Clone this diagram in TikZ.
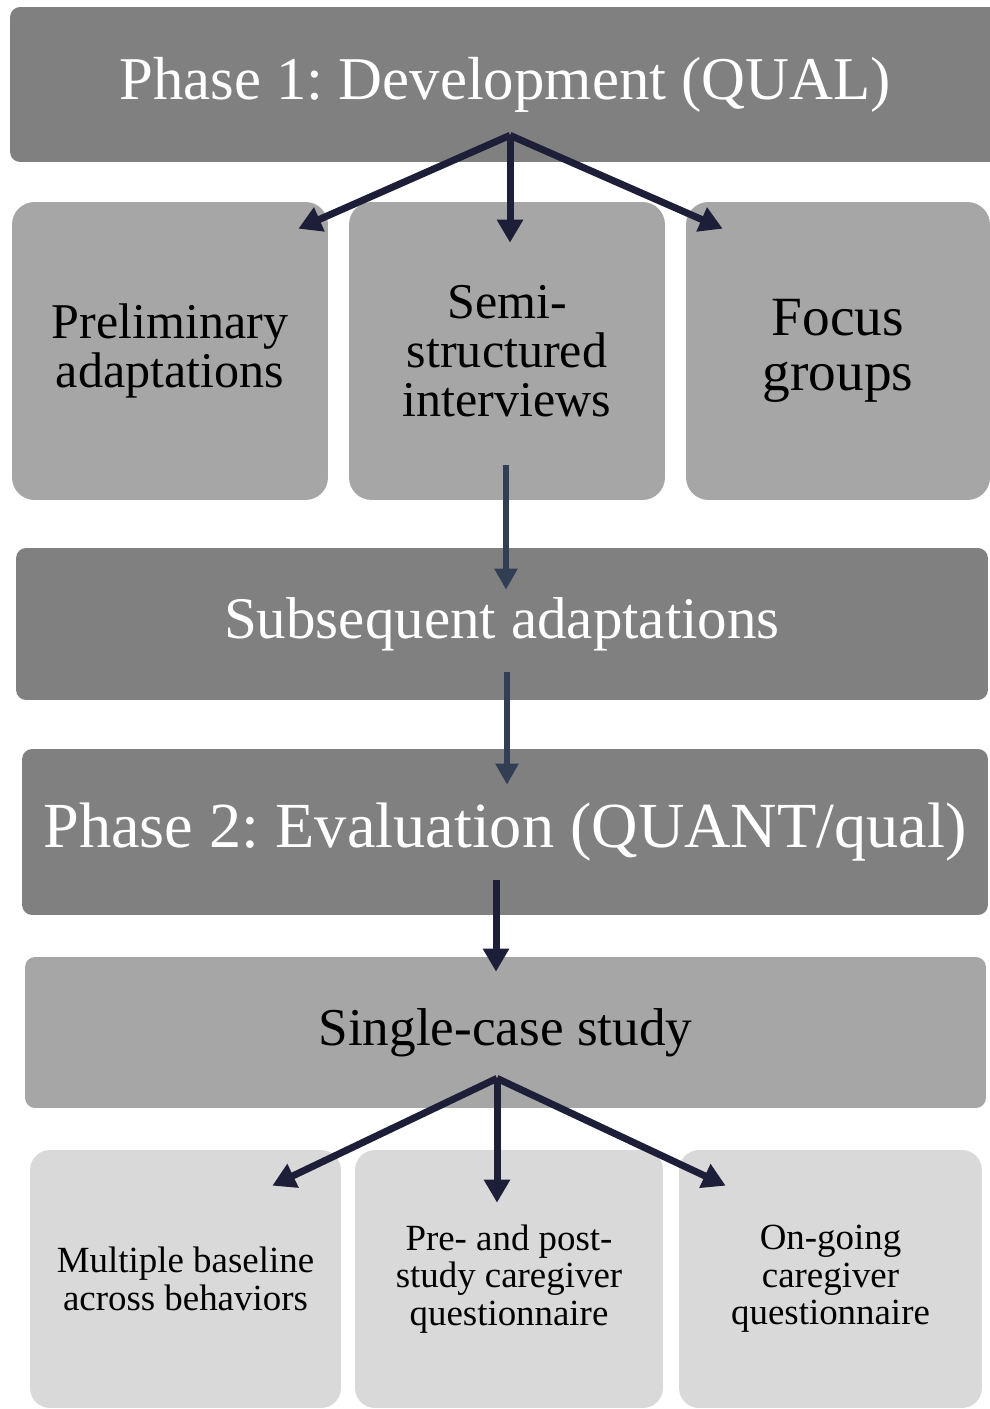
\documentclass[tikz,border=0pt]{standalone}
\usepackage{fontspec}
\setmainfont{Liberation Serif}
\usetikzlibrary{arrows.meta,positioning}
\definecolor{darkbox}{HTML}{808080}
\definecolor{midbox}{HTML}{A6A6A6}
\definecolor{lightbox}{HTML}{D9D9D9}
\definecolor{navy}{HTML}{1D1F38}
\definecolor{slate}{HTML}{323E54}
\tikzset{
	phasebox/.style={fill=darkbox,text=white,rounded corners=0.2cm,inner sep=0pt,align=center},
	studybox/.style={fill=midbox,rounded corners=0.2cm,inner sep=0pt,align=center},
	methodbox/.style={fill=midbox,rounded corners=0.45cm,inner sep=0pt,align=center,minimum height=5.96cm,font=\fontsize{28.5}{28}\selectfont},
	measurebox/.style={fill=lightbox,rounded corners=0.4cm,inner sep=0pt,align=center,minimum height=5.16cm,font=\fontsize{21}{21.3}\selectfont},
	link/.style={-{Triangle[length=0.46cm,width=0.5cm]},line width=0.14cm,draw=navy},
	step link/.style={link,draw=slate,line width=0.13cm,-{Triangle[length=0.42cm,width=0.44cm]}}
}
\frenchspacing

\begin{document}
\begin{tikzpicture}[x=0.02cm,y=-0.02cm]
	\path[use as bounding box,clip] (0,0) rectangle (990,1409);
	
	\node[phasebox,minimum width=19.8cm,minimum height=3.1cm,font=\fontsize{34.6}{40}\selectfont] (phase1) at (505,84.5) {Phase 1: Development (QUAL)};
	\node[methodbox,minimum width=6.32cm] (prelim) at (170,351) {Preliminary\\adaptations};
	\node[methodbox,minimum width=6.32cm] (semi) at (507,351) {Semi-\\structured\\interviews};
	\node[methodbox,minimum width=6.08cm,font=\fontsize{31.5}{31}\selectfont] (focus) at (838,351) {Focus\\groups};
	\node[phasebox,minimum width=19.44cm,minimum height=3.04cm,font=\fontsize{33.6}{38}\selectfont] (sub) at (502,624) {Subsequent adaptations};
	\node[phasebox,minimum width=19.32cm,minimum height=3.32cm,font=\fontsize{36.6}{42}\selectfont] (phase2) at (505,832) {Phase 2: Evaluation (QUANT/qual)};
	\node[studybox,minimum width=19.22cm,minimum height=3.02cm,font=\fontsize{30.3}{34}\selectfont] (single) at (505.5,1032.5) {Single-case study};
	\node[measurebox,minimum width=6.22cm] (multi) at (185.5,1279) {Multiple baseline\\across behaviors};
	\node[measurebox,minimum width=6.16cm] (prepost) at (509,1279) {Pre- and post-\\study caregiver\\questionnaire};
	\node[measurebox,minimum width=6.06cm] (ongoing) at (830.5,1279) {On-going\\caregiver\\questionnaire};
	
	\coordinate (fork1) at ([xshift=0.1cm,yshift=0.54cm]phase1.south);
	\coordinate (fork2) at ([xshift=-0.17cm,yshift=0.6cm]single.south);
	
	% phase 1 methods
	\draw[link] (fork1) -- ([xshift=-0.6cm,yshift=-0.54cm]prelim.north east);
	\draw[link] (fork1) -- ([yshift=-0.82cm]fork1 |- semi.north);
	\draw[link] (fork1) -- ([xshift=0.74cm,yshift=-0.54cm]focus.north west);
	
	\draw[step link] ([xshift=-0.02cm,yshift=0.7cm]semi.south) -- ([xshift=-0.02cm,yshift=-0.84cm]semi.south |- sub.north);
	\draw[step link] ([xshift=0.1cm,yshift=0.56cm]sub.south) -- ([xshift=0.1cm,yshift=-0.72cm]sub.south |- phase2.north);
	\draw[link] ([xshift=-0.18cm,yshift=0.7cm]phase2.south) -- ([xshift=-0.18cm,yshift=-0.3cm]phase2.south |- single.north);
	
	% phase 2 measures
	\draw[link] (fork2) -- ([xshift=-1.38cm,yshift=-0.72cm]multi.north east);
	\draw[link] (fork2) -- ([yshift=-1.06cm]fork2 |- prepost.north);
	\draw[link] (fork2) -- ([xshift=0.94cm,yshift=-0.72cm]ongoing.north west);
\end{tikzpicture}
\end{document}
